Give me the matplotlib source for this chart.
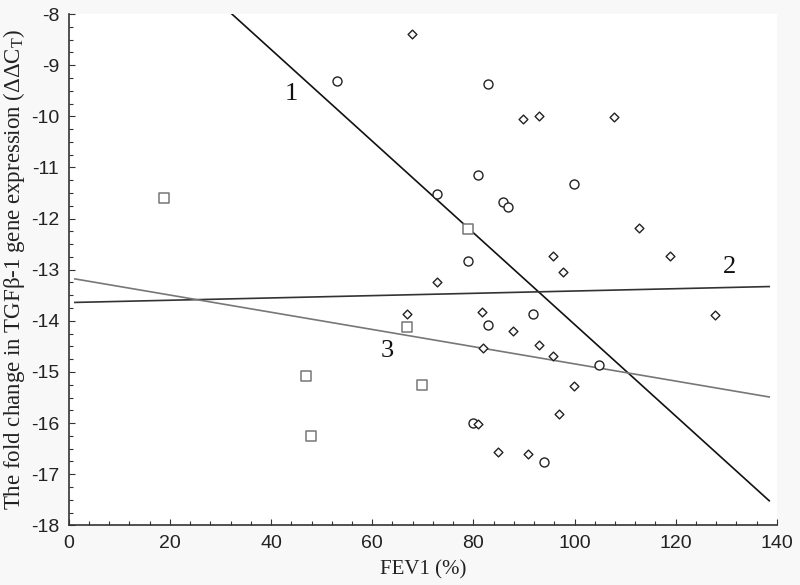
import numpy as np
import matplotlib
matplotlib.use('Agg')
import matplotlib.pyplot as plt
from matplotlib.ticker import MultipleLocator

plt.rcParams['font.family'] = 'Liberation Sans'
plt.rcParams['axes.unicode_minus'] = False
plt.rcParams['mathtext.fontset'] = 'custom'
plt.rcParams['mathtext.rm'] = 'Liberation Serif'

# group 1 - circles
circ_x = [53.0, 82.8, 80.9, 72.9, 99.9, 85.9, 86.9, 78.9, 91.8, 82.8, 104.8, 79.9, 94.0]
circ_y = [-9.31, -9.36, -11.15, -11.51, -11.32, -11.68, -11.78, -12.83, -13.87, -14.08, -14.86, -15.99, -16.76]

# group 2 - diamonds
diam_x = [67.9, 89.8, 92.9, 107.9, 112.8, 95.8, 97.8, 118.8, 72.9, 66.9, 81.8, 87.8,
          127.7, 81.9, 92.9, 95.8, 99.8, 96.9, 80.9, 84.8, 90.9]
diam_y = [-8.39, -10.06, -10.00, -10.01, -12.19, -12.74, -13.05, -12.73, -13.25, -13.87, -13.82, -14.19,
          -13.89, -14.53, -14.47, -14.69, -15.27, -15.83, -16.01, -16.56, -16.61]

# group 3 - squares
sq_x = [18.9, 78.9, 66.9, 69.8, 46.9, 47.9]
sq_y = [-11.59, -12.20, -14.13, -15.25, -15.08, -16.25]

# fitted lines (intercept, slope)
fit_1 = (-5.11, -0.0896)
fit_2 = (-13.643, 0.00226)
fit_3 = (-13.16, -0.01682)
line_x = [1.2, 138.5]

fig = plt.figure(figsize=(8, 5.85), dpi=100, facecolor='#f8f8f8')
ax = fig.add_axes([0.086, 0.102, 0.885, 0.874])
ax.set_facecolor('white')

xs = np.array(line_x)
ax.plot(xs, fit_1[0] + fit_1[1] * xs, color='#111111', lw=1.2)
ax.plot(xs, fit_2[0] + fit_2[1] * xs, color='#333333', lw=1.2)
ax.plot(xs, fit_3[0] + fit_3[1] * xs, color='#777777', lw=1.2)

ax.scatter(circ_x, circ_y, marker='o', s=42, facecolors='white', edgecolors='#222222', linewidths=1.0, zorder=3)
ax.scatter(diam_x, diam_y, marker='D', s=20, facecolors='white', edgecolors='#222222', linewidths=1.0, zorder=3)
ax.scatter(sq_x, sq_y, marker='s', s=48, facecolors='white', edgecolors='#777777', linewidths=1.1, zorder=3)

serif = 'Liberation Serif'
ax.text(44.0, -9.56, '1', fontsize=19, family=serif, ha='center', va='center', color='#111111')
ax.text(130.6, -12.94, '2', fontsize=19, family=serif, ha='center', va='center', color='#111111')
ax.text(62.9, -14.60, '3', fontsize=19, family=serif, ha='center', va='center', color='#111111')

ax.set_xlim(0, 140)
ax.set_ylim(-18, -8)
ax.xaxis.set_major_locator(MultipleLocator(20))
ax.xaxis.set_minor_locator(MultipleLocator(4))
ax.yaxis.set_major_locator(MultipleLocator(1))
ax.yaxis.set_minor_locator(MultipleLocator(0.25))
ax.tick_params(which='both', direction='in', color='#333333', width=0.8,
               labelsize=14, labelcolor='#222222')
ax.tick_params(which='major', length=4)
ax.tick_params(which='minor', length=3)
ax.tick_params(axis='x', pad=7)
ax.tick_params(axis='y', pad=7)

for s in ['top', 'right']:
    ax.spines[s].set_visible(False)
for s in ['left', 'bottom']:
    ax.spines[s].set_color('#333333')
    ax.spines[s].set_linewidth(1.2)

ax.set_xlabel('FEV1 (%)', family=serif, fontsize=15, color='#222222', labelpad=6)
ax.set_ylabel(r'The fold change in TGFβ-1 gene expression (ΔΔC$_\mathrm{T}$)',
              family=serif, fontsize=16.5, color='#222222', labelpad=3)

fig.savefig('out.png', dpi=100, facecolor=fig.get_facecolor())
